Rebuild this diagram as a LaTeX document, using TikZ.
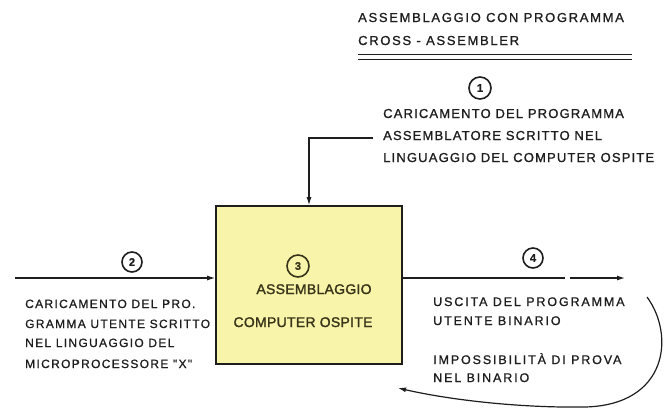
\documentclass[tikz,border=0pt]{standalone}
\usepackage{fontspec}
\usetikzlibrary{arrows.meta}
\newfontfamily\ftitle{Liberation Sans}[LetterSpace=13,FakeBold=1]
\newfontfamily\fone{Liberation Sans}[LetterSpace=9,FakeBold=1]
\newfontfamily\fleft{Liberation Sans}[LetterSpace=11,FakeBold=0.8]
\newfontfamily\fright{Liberation Sans}[LetterSpace=15,FakeBold=1]
\newfontfamily\fboxtxt{Liberation Sans}[LetterSpace=2,FakeBold=1.6]
\newfontfamily\fnum{Liberation Sans}[FakeBold=1]
\definecolor{boxyellow}{RGB}{248,244,170}
\definecolor{ink}{RGB}{30,30,30}
\definecolor{boxink}{RGB}{55,52,25}
\tikzset{
  txt/.style={anchor=base west, inner sep=0pt, text=ink},
  ttl/.style={txt, font=\ftitle\fontsize{13}{15}\selectfont},
  tone/.style={txt, font=\fone\fontsize{13}{15}\selectfont},
  tleft/.style={txt, font=\fleft\fontsize{12}{14}\selectfont},
  tright/.style={txt, font=\fright\fontsize{12.5}{14}\selectfont},
  tbox/.style={anchor=base, inner sep=0pt, text=boxink, font=\fboxtxt\fontsize{14}{16}\selectfont},
  num/.style={circle, draw=ink, line width=1.6pt, minimum size=20pt, inner sep=0pt, text=ink, font=\fnum\bfseries\fontsize{11}{12}\selectfont},
  mainbox/.style={draw=ink, line width=1.6pt, fill=boxyellow, minimum width=186pt, minimum height=158pt, inner sep=0pt},
  arr/.style={draw=ink, line width=1.2pt, -{Latex[length=8pt,width=5pt]}},
  ln/.style={draw=ink, line width=1.2pt}
}
\begin{document}
\begin{tikzpicture}[x=1pt,y=-1pt]
\useasboundingbox[fill=white] (0,0) rectangle (666,413);
% title
\node[ttl] (title1) at (358,22) {ASSEMBLAGGIO CON PROGRAMMA};
\node[ttl] (title2) at (358,45) {CROSS - ASSEMBLER};
\coordinate (u1) at (358,54);
\coordinate (u2) at (632,54);
\coordinate (u3) at (358,59);
\coordinate (u4) at (632,59);
\draw[ln, line width=1pt] (u1) -- (u2);
\draw[ln, line width=1pt] (u3) -- (u4);
% step 1
\node[num, minimum size=22pt] (c1) at (480,88) {1};
\node[tone] (t1a) at (383,118) {CARICAMENTO DEL PROGRAMMA};
\node[tone] (t1b) at (383,140) {ASSEMBLATORE SCRITTO NEL};
\node[tone] (t1c) at (383,162) {LINGUAGGIO DEL COMPUTER OSPITE};
% main box
\node[mainbox] (box) at (309,285) {};
\node[num, minimum size=22pt, draw=boxink, text=boxink] (c3) at (298,266) {3};
\node[tbox] (b1) at (314,294) {ASSEMBLAGGIO};
\node[tbox] (b2) at (303,327) {COMPUTER OSPITE};
% top connector
\coordinate (k1) at (373,138);
\coordinate (k2) at (309,138);
\draw[arr] (k1) -- (k2) -- (k2 |- box.north);
% left input
\node[num] (c2) at (132,262) {2};
\coordinate (l0) at (15,278);
\draw[arr] (l0) -- (l0 -| box.west);
\node[tleft] (t2a) at (25,308) {CARICAMENTO DEL PRO.};
\node[tleft] (t2b) at (25,328) {GRAMMA UTENTE SCRITTO};
\node[tleft] (t2c) at (25,347) {NEL LINGUAGGIO DEL};
\node[tleft] (t2d) at (25,368) {MICROPROCESSORE "X"};
% right output
\node[num] (c4) at (533,258) {4};
\coordinate (r0) at (565,278);
\coordinate (r1) at (570,278);
\coordinate (r2) at (625,278);
\draw[ln] (l0 -| box.east) -- (r0);
\draw[arr] (r1) -- (r2);
\node[tright] (t4a) at (433,306) {USCITA DEL PROGRAMMA};
\node[tright] (t4b) at (433,325) {UTENTE BINARIO};
\node[tright] (t4c) at (433,364) {IMPOSSIBILITÀ DI PROVA};
\node[tright] (t4d) at (433,382) {NEL BINARIO};
% return curve
\coordinate (cs) at (647,297);
\coordinate (ce) at (398,388);
\draw[arr] (cs) .. controls (675,335) and (668,405) .. (585,407) .. controls (520,408) and (450,400) .. (ce);
\end{tikzpicture}
\end{document}
